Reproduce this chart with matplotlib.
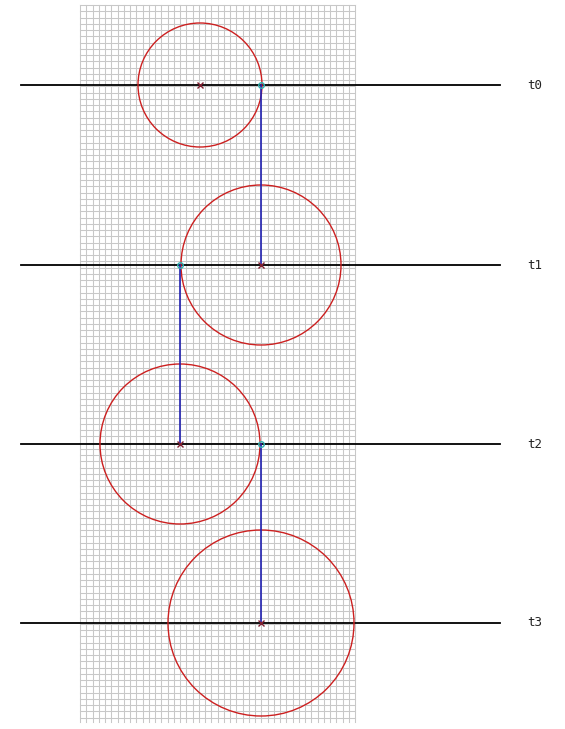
# Stacked time slices with circles on a grid background

import numpy as np
import matplotlib.pyplot as plt
import matplotlib.patches as patches

# time slice rows (pixel y of each horizontal line) and labels
labels = ["t0", "t1", "t2", "t3"]
row_y = [85, 265, 444, 623]

# circle centers and radii for each row
center_x = [200, 261, 180, 261]
radius = [62, 80, 80, 93]

# connecting points (x of blue drop line starting at row i)
link_x = [261, 180, 261]

fig = plt.figure(figsize=(5.65, 7.29), dpi=100)
ax = fig.add_axes([0, 0, 1, 1])
ax.set_xlim(0, 565)
ax.set_ylim(729, 0)
ax.axis('off')

# grid paper
gx0, gx1, gy0, gy1 = 80, 355, 5, 722
step = 6.25
for x in np.arange(gx0, gx1 + 0.1, step):
    ax.plot([x, x], [gy0, gy1], color='#c8c8c8', lw=0.75, zorder=1)
for y in np.arange(gy0, gy1 + 0.1, step):
    ax.plot([gx0, gx1], [y, y], color='#c8c8c8', lw=0.75, zorder=1)

# horizontal time lines + labels
for lab, y in zip(labels, row_y):
    ax.plot([21, 500], [y, y], color='black', lw=1.3, zorder=3)
    ax.text(527, y, lab, fontsize=9, family='DejaVu Sans Mono',
            va='center', ha='left', color='#222222')

# circles and center markers
for cx, y, r in zip(center_x, row_y, radius):
    circ = patches.Circle((cx, y), r, fill=False, ec='#cc2020', lw=1.0, zorder=4)
    ax.add_patch(circ)
    ax.plot(cx, y, marker='x', ms=4.5, mew=1.0, color='#802030', zorder=6)

# blue drop lines and cyan points
for i, lx in enumerate(link_x):
    ax.plot([lx, lx], [row_y[i], row_y[i + 1]], color='#2020b0', lw=1.2, zorder=5)
    ax.plot(lx, row_y[i], marker='o', ms=4, mfc='none', mec='#30b0b0', mew=1.0, zorder=6)

fig.savefig('out.png', dpi=100)
plt.close(fig)
